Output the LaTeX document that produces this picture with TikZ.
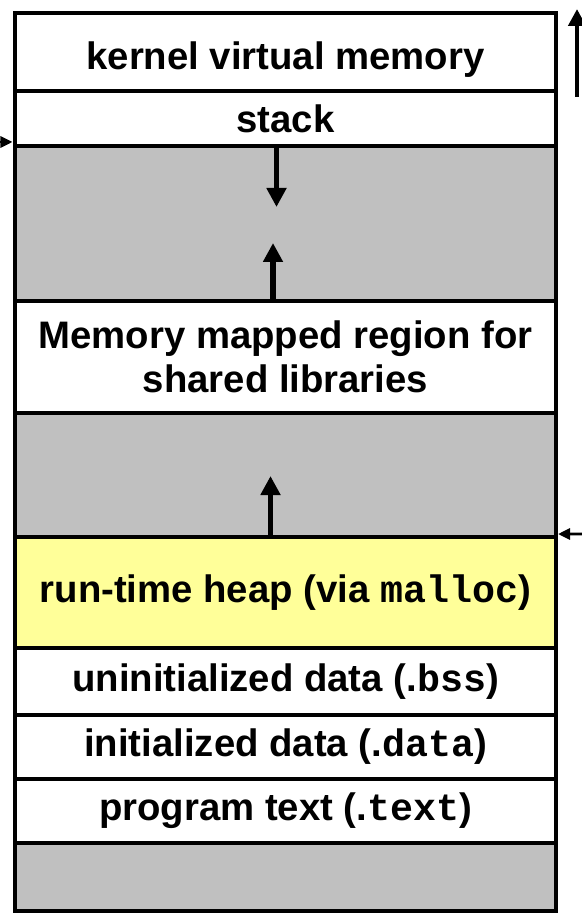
\documentclass[tikz,border=0pt]{standalone}
\usepackage{fontspec}
\setmainfont{Liberation Sans}
\setmonofont{Liberation Mono}
\usetikzlibrary{arrows.meta, positioning}

\definecolor{holegray}{HTML}{C0C0C0}
\definecolor{heapyellow}{HTML}{FFFF99}

\tikzset{
  memseg/.style={draw, line width=2.6pt, fill=white, minimum width=10.82cm,
    inner sep=0pt, outer sep=0pt, align=center,
    font=\fontsize{21.8}{25}\selectfont\bfseries},
  hole/.style={memseg, fill=holegray},
  growarrow/.style={line width=3.4pt, -{Triangle[width=0.38cm, length=0.38cm]}},
  ptrarrow/.style={line width=1.6pt, -{Triangle[width=0.22cm, length=0.24cm]}}
}

\begin{document}
\begin{tikzpicture}
    \useasboundingbox (0,0) rectangle (11.64,-18.34);

    % address space, top to bottom
    \node[memseg, minimum height=1.56cm, text height=24pt] (kernel) at (5.71,-1.04) {kernel virtual memory};
    \node[memseg, minimum height=1.10cm, below=0pt of kernel] (stack) {stack};
    \node[hole, minimum height=3.10cm, below=0pt of stack] (stackhole) {};
    \node[memseg, minimum height=2.24cm, below=0pt of stackhole] (mmap) {Memory mapped region for\\shared libraries};
    \node[hole, minimum height=2.48cm, below=0pt of mmap] (heaphole) {};
    \node[memseg, fill=heapyellow, minimum height=2.22cm, below=0pt of heaphole] (heap) {run-time heap (via \texttt{malloc})};
    \node[memseg, minimum height=1.34cm, below=0pt of heap] (bss) {uninitialized data (.\texttt{bss})};
    \node[memseg, minimum height=1.28cm, below=0pt of bss] (data) {initialized data (.\texttt{data})};
    \node[memseg, minimum height=1.28cm, below=0pt of data] (text) {program text (.\texttt{text})};
    \node[hole, minimum height=1.36cm, below=0pt of text] (unused) {};

    % growth directions
    \coordinate (stacktip) at ([xshift=-0.18cm, yshift=-1.22cm]stackhole.north);
    \coordinate (mmaptip) at ([xshift=-0.25cm, yshift=1.16cm]mmap.north);
    \coordinate (heaptip) at ([xshift=-0.30cm, yshift=1.22cm]heap.north);
    \draw[growarrow] ([xshift=-0.18cm]stackhole.north) -- (stacktip);
    \draw[growarrow] ([xshift=-0.25cm]mmap.north) -- (mmaptip);
    \draw[growarrow] ([xshift=-0.30cm]heap.north) -- (heaptip);

    % pointers and address direction
    \coordinate (spfrom) at (0,-2.84);
    \coordinate (brkfrom) at (11.64,-10.68);
    \coordinate (addrlow) at (11.54,-1.94);
    \coordinate (addrhigh) at (11.54,-0.18);
    \draw[ptrarrow] (spfrom) -- ([xshift=-0.05cm, yshift=0.08cm]stack.south west);
    \draw[ptrarrow] (brkfrom) -- ([xshift=0.04cm, yshift=0.06cm]heap.north east);
    \draw[line width=2.8pt, -{Triangle[width=0.34cm, length=0.34cm]}] (addrlow) -- (addrhigh);
\end{tikzpicture}
\end{document}
